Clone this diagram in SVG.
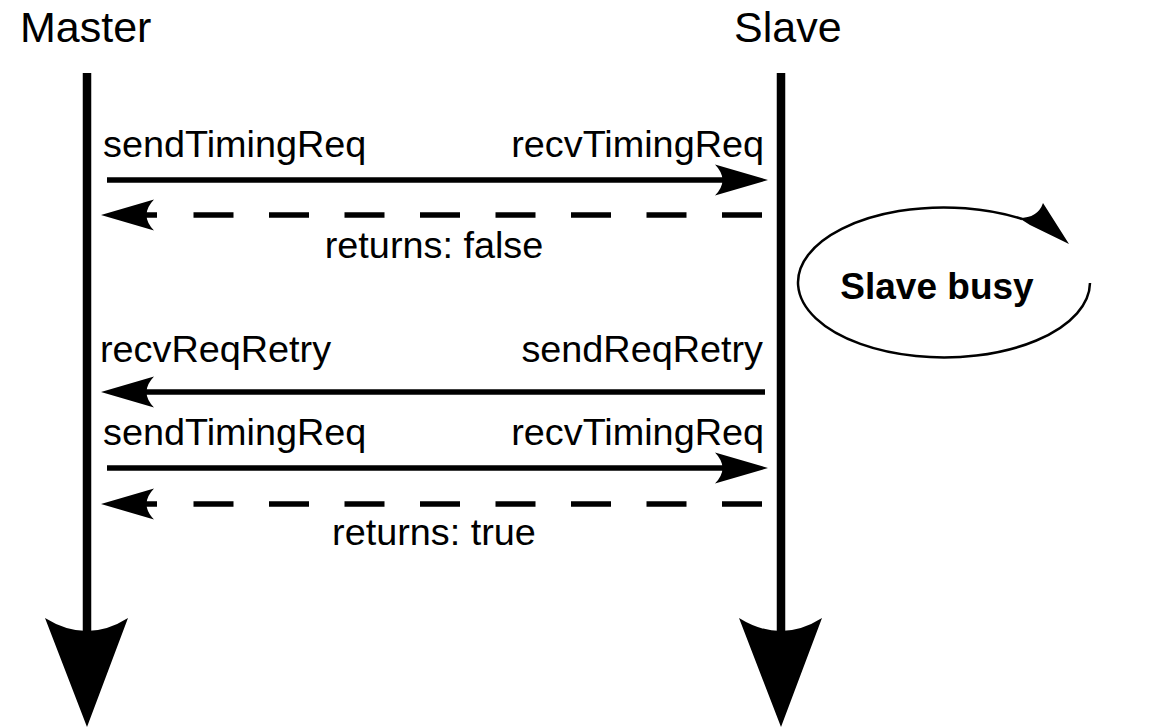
<svg xmlns="http://www.w3.org/2000/svg" xmlns:xlink="http://www.w3.org/1999/xlink" width="1160" height="728" viewBox="0 0 1160 728">
  <style>
    .title { font-family: "Liberation Sans", Arial, sans-serif; font-size: 43px; fill: #000; }
    .lbl { font-family: "Liberation Sans", Arial, sans-serif; font-size: 37.8px; fill: #000; }
    .busy { font-family: "Liberation Sans", Arial, sans-serif; font-size: 37px; font-weight: bold; fill: #000; }
    .life { stroke: #000; stroke-width: 8.5; fill: none; }
    .msg { stroke: #000; stroke-width: 5.5; fill: none; }
    .dash { stroke: #000; stroke-width: 5.5; fill: none; stroke-dasharray: 40 35.5; }
    .head { fill: #000; stroke: none; }
  </style>
  <defs>
    <path id="headR" d="M0,0 L-53,-15.5 Q-38,0 -53,15.5 Z"/>
    <path id="headL" d="M0,0 L53,-15.5 Q38,0 53,15.5 Z"/>
    <path id="bigHead" d="M0,0 L-42,-109 Q0,-83 41,-109 Z"/>
  </defs>
  <rect width="1160" height="728" fill="#fff"/>

  <g id="master">
    <text class="title" x="20" y="42">Master</text>
    <line class="life" x1="87" y1="73" x2="87" y2="640"/>
    <use xlink:href="#bigHead" class="head" x="87" y="727"/>
  </g>

  <g id="slave">
    <text class="title" x="734" y="42">Slave</text>
    <line class="life" x1="781" y1="73" x2="781" y2="640"/>
    <use xlink:href="#bigHead" class="head" x="781" y="727"/>
  </g>

  <g id="slave-busy">
    <path d="M1090,283 A146,75 0 1 1 1022,219" fill="none" stroke="#000" stroke-width="2.5"/>
    <path class="head" d="M1069,244 L1043,203 Q1038,218 1019,218 L1030,225 Z"/>
    <text class="busy" x="937" y="299" text-anchor="middle">Slave busy</text>
  </g>

  <g id="connectors">
    <line class="msg" x1="107" y1="180" x2="750" y2="180"/>
    <use xlink:href="#headR" class="head" x="768" y="180"/>
    <path class="dash" d="M762,215 L193,215"/>
    <line class="msg" x1="120" y1="215" x2="157" y2="215"/>
    <use xlink:href="#headL" class="head" x="101" y="215"/>

    <line class="msg" x1="765" y1="392" x2="120" y2="392"/>
    <use xlink:href="#headL" class="head" x="101" y="392"/>

    <line class="msg" x1="107" y1="468" x2="750" y2="468"/>
    <use xlink:href="#headR" class="head" x="768" y="468"/>
    <path class="dash" d="M762,504 L193,504"/>
    <line class="msg" x1="120" y1="504" x2="157" y2="504"/>
    <use xlink:href="#headL" class="head" x="101" y="504"/>
  </g>

  <g id="labels">
    <text class="lbl" x="103" y="157">sendTimingReq</text>
    <text class="lbl" x="764" y="157" text-anchor="end">recvTimingReq</text>
    <text class="lbl" x="434" y="258" text-anchor="middle">returns: false</text>
    <text class="lbl" x="100" y="362">recvReqRetry</text>
    <text class="lbl" x="763" y="362" text-anchor="end">sendReqRetry</text>
    <text class="lbl" x="103" y="445">sendTimingReq</text>
    <text class="lbl" x="764" y="445" text-anchor="end">recvTimingReq</text>
    <text class="lbl" x="434" y="545" text-anchor="middle">returns: true</text>
  </g>
</svg>
